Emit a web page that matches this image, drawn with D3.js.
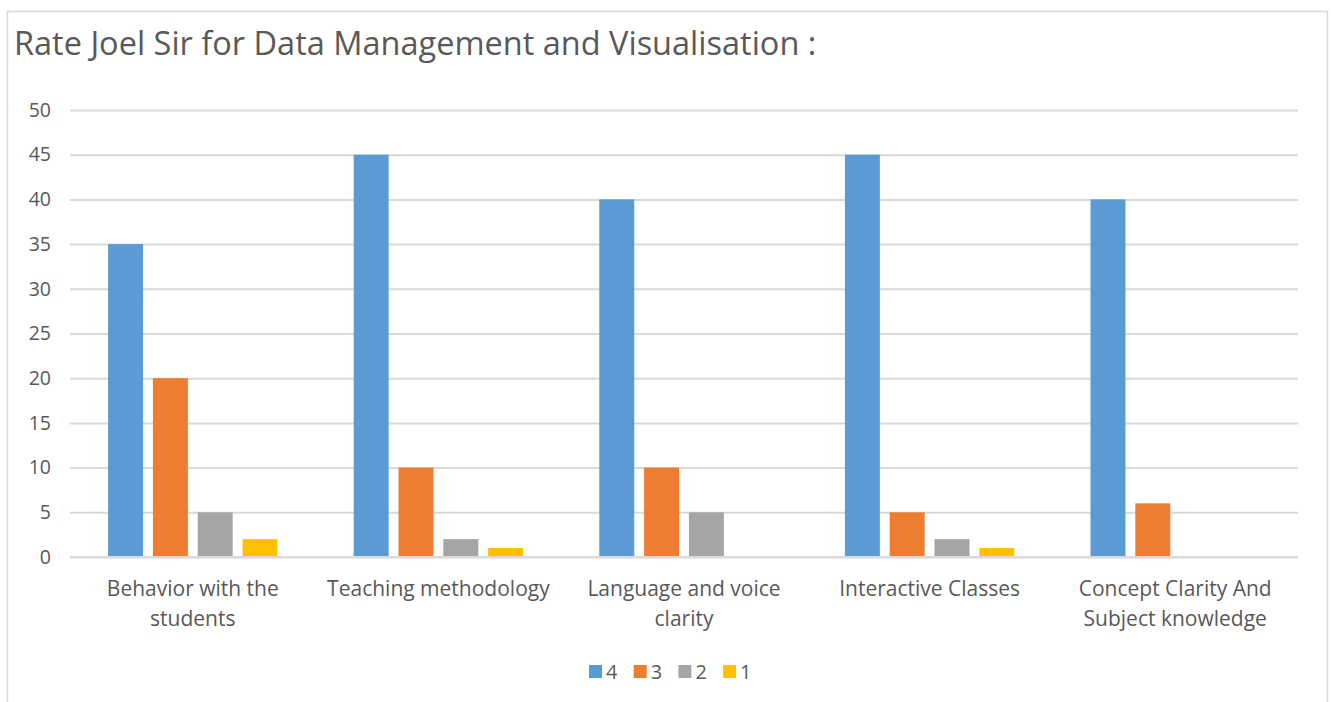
<!DOCTYPE html>
<html>
<head>
<meta charset="utf-8">
<script src="https://cdn.jsdelivr.net/npm/d3@7"></script>
<style>
  body { margin: 0; background: #fff; }
  text { font-family: "Open Sans", sans-serif; fill: #595959; }
</style>
</head>
<body>
<div id="chart"></div>
<script>
// chart data
var title = "Rate Joel Sir for Data Management and Visualisation :";
var categories = ["Behavior with the students", "Teaching methodology", "Language and voice clarity",
                  "Interactive Classes", "Concept Clarity And Subject knowledge"];
var seriesNames = ["4", "3", "2", "1"];
var rating4 = [35, 45, 40, 45, 40];
var rating3 = [20, 10, 10, 5, 6];
var rating2 = [5, 2, 5, 2, 0];
var rating1 = [2, 1, 0, 1, 0];
var colors = ["#5B9BD5", "#ED7D31", "#A5A5A5", "#FFC000"];
var yTicks = [0, 5, 10, 15, 20, 25, 30, 35, 40, 45, 50];

var seriesValues = [rating4, rating3, rating2, rating1];
var width = 1332, height = 702;

var svg = d3.select("#chart").append("svg")
    .attr("width", width)
    .attr("height", height);

// outer frame
svg.append("rect")
    .attr("x", 7.5).attr("y", 11.5)
    .attr("width", 1320).attr("height", 710)
    .attr("fill", "none")
    .attr("stroke", "#d9d9d9")
    .attr("stroke-width", 1.5);

svg.append("text")
    .attr("x", 14).attr("y", 55)
    .style("font-size", "32.5px")
    .text(title);

var x0 = d3.scaleBand().domain(categories).range([70, 1298]);
var x1 = d3.scaleBand().domain(seriesNames).range([0, x0.bandwidth()])
    .paddingInner(0.22).paddingOuter(0.85);
var y = d3.scaleLinear().domain([0, 50]).range([557, 110]);

// gridlines + y labels
var yAxis = svg.append("g")
    .attr("transform", "translate(70,0)")
    .call(d3.axisLeft(y).tickValues(yTicks).tickSize(-(1298 - 70)).tickPadding(19));
yAxis.select(".domain").remove();
yAxis.selectAll("line").attr("stroke", "#d9d9d9").attr("stroke-width", 2);
yAxis.selectAll("text")
    .style("font-size", "19.5px")
    .style("font-family", "'Open Sans', sans-serif")
    .attr("fill", "#595959");

// bars
var groups = svg.selectAll("g.group")
    .data(categories)
  .enter().append("g")
    .attr("class", "group")
    .attr("transform", function(d) { return "translate(" + x0(d) + ",0)"; });

groups.selectAll("rect")
    .data(function(d, i) {
      return seriesNames.map(function(s, j) { return {key: s, value: seriesValues[j][i], color: colors[j]}; });
    })
  .enter().append("rect")
    .attr("x", function(d) { return x1(d.key); })
    .attr("y", function(d) { return y(d.value); })
    .attr("width", x1.bandwidth())
    .attr("height", function(d) { return y(0) - y(d.value); })
    .attr("fill", function(d) { return d.color; });

// zero line on top of bars
svg.append("line")
    .attr("x1", 70).attr("x2", 1298)
    .attr("y1", y(0)).attr("y2", y(0))
    .attr("stroke", "#d9d9d9").attr("stroke-width", 2);

// category labels, wrapped like Excel
var labels = svg.selectAll("text.cat")
    .data(categories)
  .enter().append("text")
    .attr("class", "cat")
    .attr("text-anchor", "middle")
    .style("font-size", "21px")
    .attr("x", function(d) { return x0(d) + x0.bandwidth() / 2; })
    .attr("y", 596);

labels.each(function(d) {
  var el = d3.select(this), words = d.split(" "), line = [], lines = [];
  var probe = el.append("tspan");
  words.forEach(function(w) {
    line.push(w);
    probe.text(line.join(" "));
    if (probe.node().getComputedTextLength() > 235 && line.length > 1) {
      line.pop();
      lines.push(line.join(" "));
      line = [w];
    }
  });
  lines.push(line.join(" "));
  probe.remove();
  var cx = el.attr("x");
  lines.forEach(function(l, k) {
    el.append("tspan").attr("x", cx).attr("dy", k === 0 ? 0 : 30).text(l);
  });
});

// legend
var legend = svg.selectAll("g.legend")
    .data(seriesNames)
  .enter().append("g")
    .attr("class", "legend")
    .attr("transform", function(d, i) { return "translate(" + (589 + i * 44.7) + ",665)"; });

legend.append("rect")
    .attr("width", 13).attr("height", 13)
    .attr("fill", function(d, i) { return colors[i]; });

legend.append("text")
    .attr("x", 17).attr("y", 13.5)
    .style("font-size", "20px")
    .text(function(d) { return d; });
</script>
</body>
</html>
